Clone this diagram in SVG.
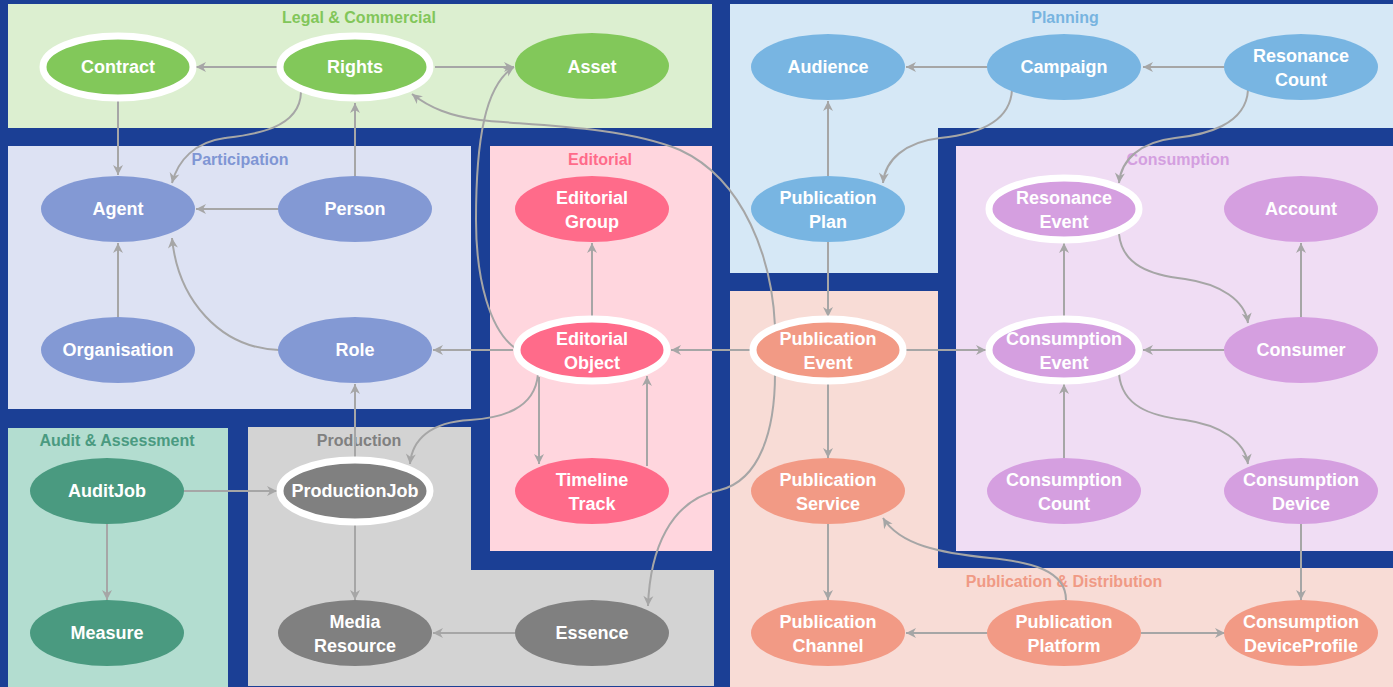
<svg xmlns="http://www.w3.org/2000/svg" width="1393" height="687" viewBox="0 0 1393 687">
<defs>
<marker id="arr" viewBox="0 0 12 12" refX="11" refY="6" markerWidth="12" markerHeight="12" markerUnits="userSpaceOnUse" orient="auto">
<path d="M1,1 L11,6 L1,11 L4,6 z" fill="#a6a6a6"/>
</marker>
<style>
.lbl{font-family:"Liberation Sans",Arial,sans-serif;font-weight:bold;font-size:16px;text-anchor:middle}
.nt{font-family:"Liberation Sans",Arial,sans-serif;font-weight:bold;font-size:18px;fill:#ffffff;text-anchor:middle}
.hl{stroke:#ffffff;stroke-width:7}
.e{fill:none;stroke:#a6a6a6;stroke-width:2;marker-end:url(#arr)}
.g{fill:#82c85a}.p{fill:#8399d4}.r{fill:#ff6b8a}.b{fill:#78b5e2}.c{fill:#d59fe0}.a{fill:#4a9a80}.k{fill:#808080}.o{fill:#f29a85}
</style>
</defs>
<rect x="0" y="0" width="1393" height="687" fill="#1b3f95"/>
<g id="panels">
<rect x="8" y="4" width="704" height="124" fill="#dcefd0"/>
<rect x="730" y="4" width="663" height="269" fill="#d6e8f6"/>
<rect x="8" y="146" width="463" height="263" fill="#dde2f3"/>
<rect x="490" y="146" width="222" height="405" fill="#ffd6de"/>
<rect x="730" y="291" width="663" height="396" fill="#f8dcd6"/>
<rect x="938" y="128" width="455" height="440" fill="#1b3f95"/>
<rect x="956" y="146" width="437" height="405" fill="#f0ddf4"/>
<rect x="8" y="428" width="220" height="259" fill="#b3ddd0"/>
<polygon points="248,427 471,427 471,570 714,570 714,686 248,686" fill="#d3d3d3"/>
<text class="lbl" x="359" y="23" fill="#82c65a">Legal &amp; Commercial</text>
<text class="lbl" x="1065" y="23" fill="#78b4e0">Planning</text>
<text class="lbl" x="240" y="165" fill="#8096d4">Participation</text>
<text class="lbl" x="600" y="165" fill="#ff6b8a">Editorial</text>
<text class="lbl" x="1178" y="165" fill="#d49fe0">Consumption</text>
<text class="lbl" x="117" y="446" fill="#4a9a80">Audit &amp; Assessment</text>
<text class="lbl" x="359" y="446" fill="#808080">Production</text>
<text class="lbl" x="1064" y="587" fill="#f09a85">Publication &amp; Distribution</text>
</g>
<g id="connectors">
<path class="e" d="M279,67 H196"/>
<path class="e" d="M435,67 H514"/>
<path class="e" d="M118,100 V175"/>
<path class="e" d="M301,92 C300,130 250,135 225,138 C195,142 178,160 172,183"/>
<path class="e" d="M355,176 V103"/>
<path class="e" d="M279,209 H196"/>
<path class="e" d="M118,317 V243"/>
<path class="e" d="M279,350 C220,348 178,300 172,238"/>
<path class="e" d="M513,350 H433"/>
<path class="e" d="M355,458 V384"/>
<path class="e" d="M592,318 V243"/>
<path class="e" d="M538,374 C535,410 500,418 470,420 C430,422 412,440 410,464"/>
<path class="e" d="M539,377 V464"/>
<path class="e" d="M647,466 V376"/>
<path class="e" d="M751,350 H671"/>
<path class="e" d="M515,348 C490,330 476,280 476,220 C476,140 485,85 514,67"/>
<path class="e" d="M775,326 C772,260 745,180 680,150 C620,125 520,125 480,120 C450,116 430,108 412,94"/>
<path class="e" d="M775,374 C775,430 760,480 720,490 C670,500 650,550 648,606"/>
<path class="e" d="M828,176 V101"/>
<path class="e" d="M988,67 H906"/>
<path class="e" d="M1225,67 H1143"/>
<path class="e" d="M1012,90 C1010,125 970,135 940,138 C905,142 885,160 883,183"/>
<path class="e" d="M1248,90 C1246,125 1205,135 1175,138 C1140,142 1121,160 1119,183"/>
<path class="e" d="M828,242 V317"/>
<path class="e" d="M905,350 H986"/>
<path class="e" d="M828,383 V458"/>
<path class="e" d="M828,524 V600"/>
<path class="e" d="M988,633 H906"/>
<path class="e" d="M1141,633 H1225"/>
<path class="e" d="M1066,600 C1066,570 1030,562 990,558 C940,553 900,545 883,518"/>
<path class="e" d="M1064,318 V243"/>
<path class="e" d="M1119,234 C1122,265 1150,275 1185,279 C1220,284 1245,300 1248,323"/>
<path class="e" d="M1301,317 V243"/>
<path class="e" d="M1225,350 H1143"/>
<path class="e" d="M1064,458 V384"/>
<path class="e" d="M1119,374 C1122,406 1150,416 1185,420 C1220,425 1245,441 1248,464"/>
<path class="e" d="M1301,524 V600"/>
<path class="e" d="M184,491 H277"/>
<path class="e" d="M107,524 V600"/>
<path class="e" d="M355,525 V600"/>
<path class="e" d="M515,633 H433"/>
</g>
<g id="n-contract"><ellipse class="g hl" cx="118" cy="67" rx="75" ry="31"/><text class="nt" x="118" y="73">Contract</text></g>
<g id="n-rights"><ellipse class="g hl" cx="355" cy="67" rx="75" ry="31"/><text class="nt" x="355" y="73">Rights</text></g>
<g id="n-asset"><ellipse class="g" cx="592" cy="66" rx="77" ry="33"/><text class="nt" x="592" y="73">Asset</text></g>
<g id="n-audience"><ellipse class="b" cx="828" cy="67" rx="77" ry="33"/><text class="nt" x="828" y="73">Audience</text></g>
<g id="n-campaign"><ellipse class="b" cx="1064" cy="67" rx="77" ry="33"/><text class="nt" x="1064" y="73">Campaign</text></g>
<g id="n-resonancecount"><ellipse class="b" cx="1301" cy="67" rx="77" ry="33"/><text class="nt" x="1301" y="62">Resonance</text><text class="nt" x="1301" y="86">Count</text></g>
<g id="n-agent"><ellipse class="p" cx="118" cy="209" rx="77" ry="33"/><text class="nt" x="118" y="215">Agent</text></g>
<g id="n-person"><ellipse class="p" cx="355" cy="209" rx="77" ry="33"/><text class="nt" x="355" y="215">Person</text></g>
<g id="n-editorialgroup"><ellipse class="r" cx="592" cy="209" rx="77" ry="33"/><text class="nt" x="592" y="204">Editorial</text><text class="nt" x="592" y="228">Group</text></g>
<g id="n-publicationplan"><ellipse class="b" cx="828" cy="209" rx="77" ry="33"/><text class="nt" x="828" y="204">Publication</text><text class="nt" x="828" y="228">Plan</text></g>
<g id="n-resonanceevent"><ellipse class="c hl" cx="1064" cy="209" rx="75" ry="31"/><text class="nt" x="1064" y="204">Resonance</text><text class="nt" x="1064" y="228">Event</text></g>
<g id="n-account"><ellipse class="c" cx="1301" cy="209" rx="77" ry="33"/><text class="nt" x="1301" y="215">Account</text></g>
<g id="n-organisation"><ellipse class="p" cx="118" cy="350" rx="77" ry="33"/><text class="nt" x="118" y="356">Organisation</text></g>
<g id="n-role"><ellipse class="p" cx="355" cy="350" rx="77" ry="33"/><text class="nt" x="355" y="356">Role</text></g>
<g id="n-editorialobject"><ellipse class="r hl" cx="592" cy="350" rx="75" ry="31"/><text class="nt" x="592" y="345">Editorial</text><text class="nt" x="592" y="369">Object</text></g>
<g id="n-publicationevent"><ellipse class="o hl" cx="828" cy="350" rx="75" ry="31"/><text class="nt" x="828" y="345">Publication</text><text class="nt" x="828" y="369">Event</text></g>
<g id="n-consumptionevent"><ellipse class="c hl" cx="1064" cy="350" rx="75" ry="31"/><text class="nt" x="1064" y="345">Consumption</text><text class="nt" x="1064" y="369">Event</text></g>
<g id="n-consumer"><ellipse class="c" cx="1301" cy="350" rx="77" ry="33"/><text class="nt" x="1301" y="356">Consumer</text></g>
<g id="n-auditjob"><ellipse class="a" cx="107" cy="491" rx="77" ry="33"/><text class="nt" x="107" y="497">AuditJob</text></g>
<g id="n-productionjob"><ellipse class="k hl" cx="355" cy="491" rx="75" ry="31"/><text class="nt" x="355" y="497">ProductionJob</text></g>
<g id="n-timelinetrack"><ellipse class="r" cx="592" cy="491" rx="77" ry="33"/><text class="nt" x="592" y="486">Timeline</text><text class="nt" x="592" y="510">Track</text></g>
<g id="n-publicationservice"><ellipse class="o" cx="828" cy="491" rx="77" ry="33"/><text class="nt" x="828" y="486">Publication</text><text class="nt" x="828" y="510">Service</text></g>
<g id="n-consumptioncount"><ellipse class="c" cx="1064" cy="491" rx="77" ry="33"/><text class="nt" x="1064" y="486">Consumption</text><text class="nt" x="1064" y="510">Count</text></g>
<g id="n-consumptiondevice"><ellipse class="c" cx="1301" cy="491" rx="77" ry="33"/><text class="nt" x="1301" y="486">Consumption</text><text class="nt" x="1301" y="510">Device</text></g>
<g id="n-measure"><ellipse class="a" cx="107" cy="633" rx="77" ry="33"/><text class="nt" x="107" y="639">Measure</text></g>
<g id="n-mediaresource"><ellipse class="k" cx="355" cy="633" rx="77" ry="33"/><text class="nt" x="355" y="628">Media</text><text class="nt" x="355" y="652">Resource</text></g>
<g id="n-essence"><ellipse class="k" cx="592" cy="633" rx="77" ry="33"/><text class="nt" x="592" y="639">Essence</text></g>
<g id="n-publicationchannel"><ellipse class="o" cx="828" cy="633" rx="77" ry="33"/><text class="nt" x="828" y="628">Publication</text><text class="nt" x="828" y="652">Channel</text></g>
<g id="n-publicationplatform"><ellipse class="o" cx="1064" cy="633" rx="77" ry="33"/><text class="nt" x="1064" y="628">Publication</text><text class="nt" x="1064" y="652">Platform</text></g>
<g id="n-consumptiondeviceprofile"><ellipse class="o" cx="1301" cy="633" rx="77" ry="33"/><text class="nt" x="1301" y="628">Consumption</text><text class="nt" x="1301" y="652">DeviceProfile</text></g>
</svg>
